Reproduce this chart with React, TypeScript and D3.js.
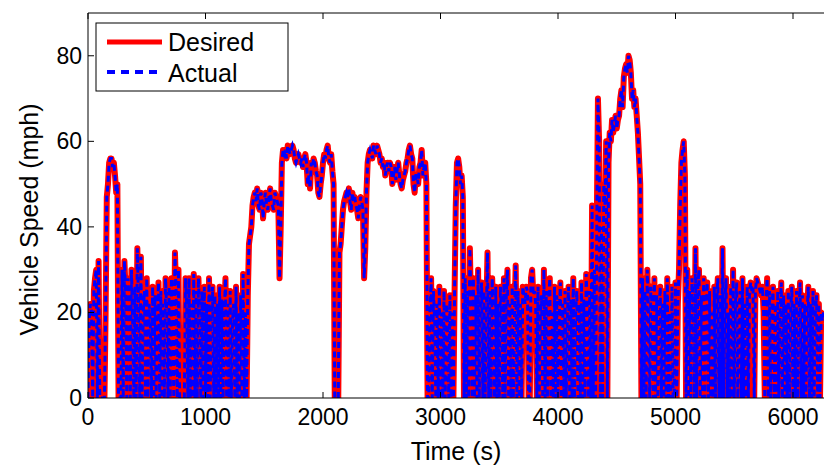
import React from "react";
import * as d3 from "d3";

const step = 10;
const speeds: number[] = [
0,18,22,20,0,25,28,30,0,32,
0,0,0,0,0,20,47,50,55,56,
56,54,55,52,48,50,0,0,0,30,
0,32,25,0,28,20,0,30,18,0,
26,0,35,22,0,33,0,20,25,0,
28,0,22,18,0,26,0,24,0,20,
27,0,25,0,22,0,28,20,0,26,
0,28,22,0,34,25,0,30,0,0,
0,0,0,28,22,0,28,0,22,0,
29,0,25,0,28,18,0,25,0,26,
0,22,0,28,0,20,26,0,24,0,
22,0,26,0,23,0,20,28,0,22,
0,25,0,18,22,0,26,0,20,0,
24,0,29,0,20,0,24,36,38,40,
45,47,48,46,49,45,44,48,47,42,
46,48,45,44,47,49,46,45,44,48,
47,46,45,28,40,55,58,57,58,56,
59,58,57,58,59,58,56,55,56,57,
56,55,56,54,56,57,55,50,52,49,
55,54,56,55,53,52,48,47,50,52,
55,57,56,58,59,56,55,57,53,50,
0,0,0,0,34,36,40,44,46,47,
48,47,49,46,44,48,46,47,45,44,
42,45,47,46,44,28,35,48,55,57,
58,57,56,59,58,57,59,58,57,55,
56,54,55,52,54,55,53,55,54,50,
52,54,51,53,55,52,50,49,51,52,
53,55,56,58,59,57,56,50,48,52,
52,50,54,55,58,52,54,55,50,0,
0,20,28,0,25,18,0,22,0,26,
0,20,0,25,0,22,18,0,24,0,
20,0,25,45,55,56,54,50,52,47,
0,28,0,25,0,35,20,0,28,0,
24,0,30,0,22,27,0,25,0,20,
34,0,25,0,28,18,0,26,0,22,
0,26,20,0,28,0,24,30,0,22,
0,26,0,20,31,0,25,0,22,0,
26,24,22,26,25,0,0,28,30,24,
25,22,0,26,0,20,24,0,30,0,
25,0,22,28,0,20,0,26,0,24,
0,18,27,0,22,0,25,0,20,26,
0,23,0,28,0,20,25,0,22,0,
27,0,23,0,29,20,0,25,0,45,
0,30,0,40,70,60,0,40,0,50,
45,60,0,55,62,60,65,62,64,66,
63,65,66,70,72,68,75,77,78,76,
80,79,76,70,72,68,70,66,62,56,
50,0,28,0,25,0,30,20,0,26,
22,0,28,0,24,0,20,26,0,22,
0,25,0,28,0,20,0,26,0,0,
27,0,22,30,45,55,58,60,52,0,
30,0,25,0,28,22,0,35,0,26,
30,0,24,0,28,0,22,27,0,25,
0,20,0,26,0,22,28,0,24,0,
35,0,22,28,0,20,0,26,0,30,
0,22,27,0,20,25,0,28,0,22,
0,26,0,24,27,25,26,0,25,28,
27,26,25,24,26,20,0,22,28,0,
25,0,20,26,0,22,0,25,0,20,
27,0,24,0,22,0,25,0,20,26,
0,22,0,25,0,20,27,0,24,0,
22,0,20,26,0,22,0,25,0,20,
24,0,22,0,20,18,20,
];
const xTicks = [0, 1000, 2000, 3000, 4000, 5000, 6000];
const yTicks = [0, 20, 40, 60, 80];

export default function App() {
  const W = 824, H = 467;
  const L = 88, T = 13, B = 398, R = 824;
  const x = d3.scaleLinear().domain([0, 6263]).range([L, L + 6263 * 0.1175]);
  const y = d3.scaleLinear().domain([0, 90]).range([B, T]);
  const pts = speeds.map((v, i) => [i * step, v] as [number, number]);
  const line = d3.line<[number, number]>().x(d => x(d[0])).y(d => y(d[1]));
  const p = line(pts) || "";
  const font = "'Liberation Sans', Arial, sans-serif";
  return (
    <svg width={W} height={H} style={{ position: "absolute", left: 0, top: 0 }} fontFamily={font}>
      <rect width={W} height={H} fill="white" />
      <defs>
        <clipPath id="c"><rect x={L} y={T} width={R - L} height={B - T} /></clipPath>
      </defs>
      <g clipPath="url(#c)">
        <path d={p} fill="none" stroke="#ff0000" strokeWidth={6} strokeLinejoin="round" />
        <path d={p} fill="none" stroke="#0000ff" strokeWidth={3} strokeDasharray="6,4" />
      </g>
      <line x1={L} x2={R} y1={B} y2={B} stroke="black" />
      <line x1={L} x2={R} y1={T} y2={T} stroke="black" />
      <line x1={L} x2={L} y1={T} y2={B} stroke="black" />
      {xTicks.map(t => (
        <g key={t}>
          <line x1={x(t)} x2={x(t)} y1={B} y2={B - 6} stroke="black" />
          <line x1={x(t)} x2={x(t)} y1={T} y2={T + 6} stroke="black" />
          <text x={x(t)} y={B + 27} fontSize={23} textAnchor="middle">{t}</text>
        </g>
      ))}
      {yTicks.map(t => (
        <g key={t}>
          <line x1={L} x2={L + 6} y1={y(t)} y2={y(t)} stroke="black" />
          <text x={L - 6} y={y(t) + 8} fontSize={23} textAnchor="end">{t}</text>
        </g>
      ))}
      <text x={456} y={460} fontSize={25} textAnchor="middle">Time (s)</text>
      <text transform={`translate(38,${(T + B) / 2 + 14}) rotate(-90)`} fontSize={25} textAnchor="middle">Vehicle Speed (mph)</text>
      <rect x={96} y={23} width={192} height={68} fill="white" stroke="black" />
      <line x1={107} x2={162} y1={42} y2={42} stroke="#ff0000" strokeWidth={5} />
      <text x={168} y={51} fontSize={25}>Desired</text>
      <line x1={107} x2={162} y1={72} y2={72} stroke="#0000ff" strokeWidth={4} strokeDasharray="8,6" />
      <text x={168} y={82} fontSize={25}>Actual</text>
    </svg>
  );
}
